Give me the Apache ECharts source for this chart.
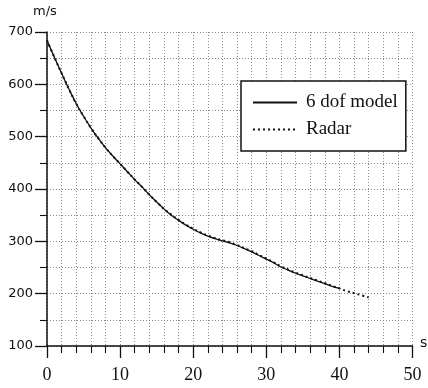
<!DOCTYPE html>
<html>
<head>
<meta charset="utf-8">
<script src="https://cdn.jsdelivr.net/npm/echarts@6/dist/echarts.min.js"></script>
<style>
html,body{margin:0;padding:0;background:#fff;}
#chart{width:428px;height:388px;}
</style>
</head>
<body>
<div id="chart"></div>
<script>
var modelTime = [0,1,2,3,4,5,6,7,8,9,10,11,12,13,14,15,16,17,18,19,20,21,22,23,24,25,26,27,28,29,30,31,32,33,34,35,36,37,38,39,40];
var modelSpeed = [684,652,621,591,563,539,517,497,479,463,448,433,418,404,389,375,362,350,340,331,323,316,310,305,301,297,292,286,280,273,266,259,251,245,239,234,229,224,219,214,210];
var radarTime = [0,1,2,3,4,5,6,7,8,9,10,11,12,13,14,15,16,17,18,19,20,21,22,23,24,25,26,27,28,29,30,31,32,33,34,35,36,37,38,39,40,41,42,43,44];
var radarSpeed = [684,652,621,591,563,539,517,497,479,463,448,433,418,404,389,375,362,351,341,332,324,317,311,306,302,298,293,287,281,274,267,260,252,246,240,235,230,225,220,215,210,205,201,197,193];
var seriesNames = ['6 dof model', 'Radar'];
var yLabel = 'm/s';
var xLabel = 's';

function pairs(xs, ys){ return xs.map(function(x,i){ return [x, ys[i]]; }); }

var chart = echarts.init(document.getElementById('chart'), null, {renderer:'canvas'});
var gridLine = {show:true, lineStyle:{color:'#8a8a8a', type:[1,2], width:1}};
chart.setOption({
  animation:false,
  backgroundColor:'#fff',
  grid:{left:47, right:15.5, top:32, bottom:42},
  xAxis:{
    type:'value', min:0, max:50, interval:10,
    axisLine:{show:true, onZero:false, lineStyle:{color:'#111', width:1.5}},
    axisTick:{show:true, length:12, lineStyle:{color:'#111', width:1.3}},
    minorTick:{show:true, splitNumber:5, length:7, lineStyle:{color:'#111', width:1.1}},
    splitLine:gridLine,
    minorSplitLine:gridLine,
    axisLabel:{margin:20, color:'#111', fontFamily:'Liberation Serif', fontSize:18, showMaxLabel:true, showMinLabel:true}
  },
  yAxis:{
    type:'value', min:100, max:700, interval:100,
    axisLine:{show:true, onZero:false, lineStyle:{color:'#111', width:1.5}},
    axisTick:{show:true, length:12, lineStyle:{color:'#111', width:1.3}},
    minorTick:{show:true, splitNumber:2, length:7, lineStyle:{color:'#111', width:1.1}},
    splitLine:gridLine,
    minorSplitLine:gridLine,
    axisLabel:{margin:14, color:'#111', fontFamily:'DejaVu Sans', fontSize:13, showMaxLabel:true, showMinLabel:true}
  },
  legend:{
    left:241, top:81, orient:'vertical',
    backgroundColor:'#fff', borderColor:'#111', borderWidth:1.5, borderRadius:0,
    padding:[12,8,12,11], itemGap:8, itemWidth:44, itemHeight:14,
    itemStyle:{color:'rgba(0,0,0,0)', opacity:0, borderWidth:0},
    textStyle:{fontFamily:'Liberation Serif', fontSize:19, lineHeight:19, color:'#111', padding:[0,0,0,4]},
    data:[{name:seriesNames[0]},{name:seriesNames[1]}]
  },
  graphic:[
    {type:'text', left:33, top:5, style:{text:yLabel, fontFamily:'DejaVu Sans', fontSize:13, fill:'#111'}},
    {type:'text', left:420, top:336, style:{text:xLabel, fontFamily:'DejaVu Sans', fontSize:14, fill:'#111'}}
  ],
  series:[
    {name:seriesNames[0], type:'line', symbol:'none', smooth:0.4, data:pairs(modelTime, modelSpeed),
     lineStyle:{color:'#111', width:1.3}, itemStyle:{color:'#111'}, z:3},
    {name:seriesNames[1], type:'line', symbol:'none', smooth:0.4, data:pairs(radarTime, radarSpeed),
     lineStyle:{color:'#111', width:2, type:[2,3]}, itemStyle:{color:'#111'}, z:4}
  ]
});
</script>
</body>
</html>
